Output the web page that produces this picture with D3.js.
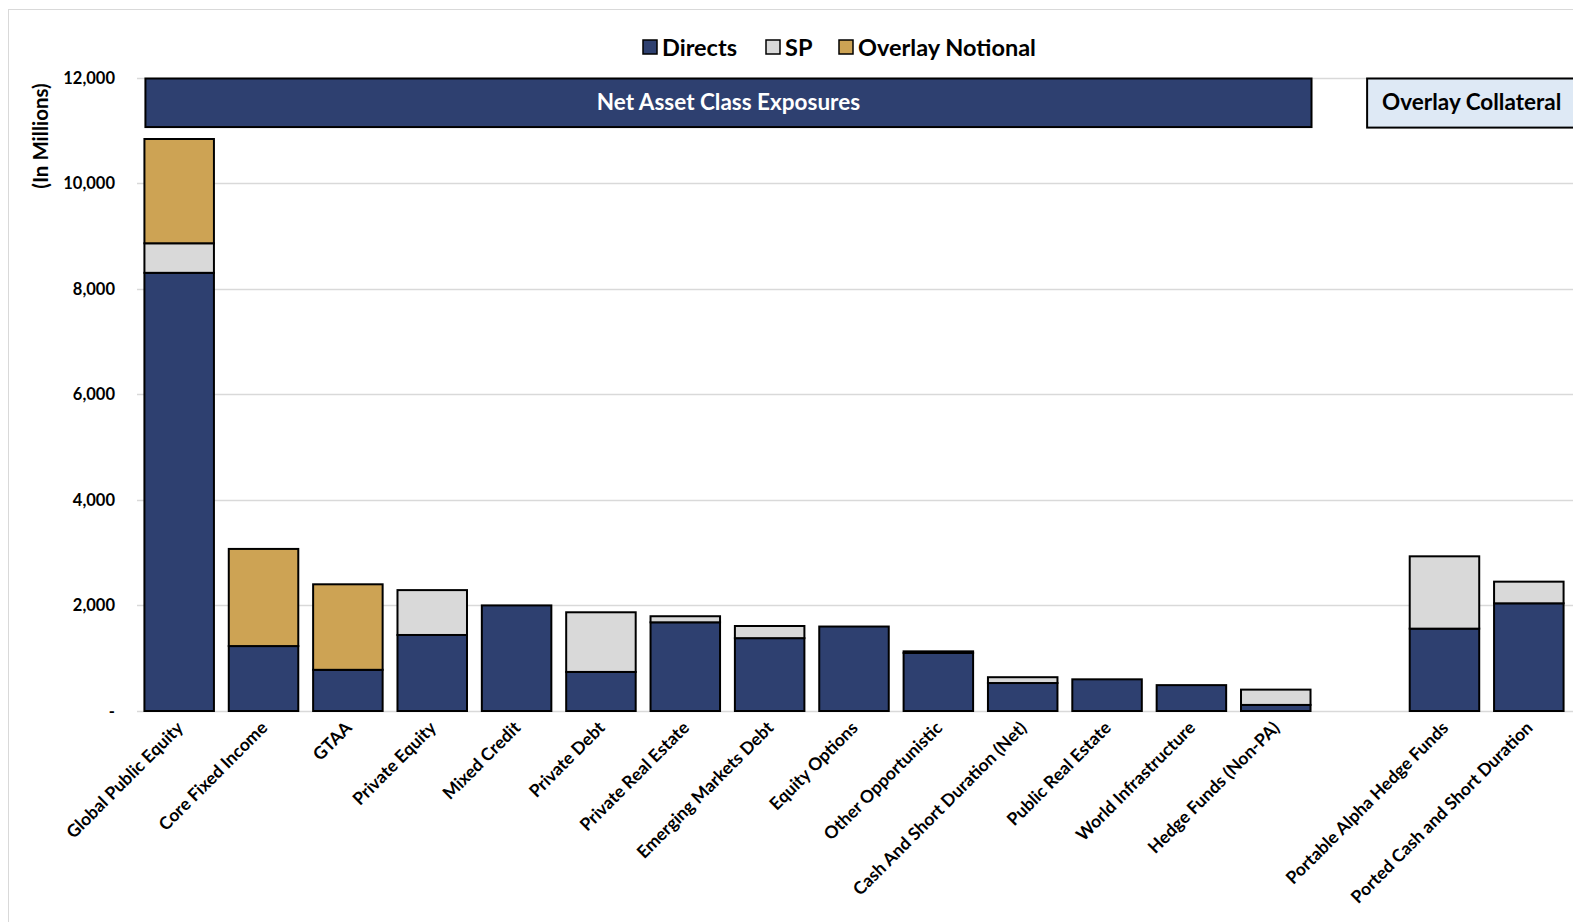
<!DOCTYPE html>
<html><head><meta charset="utf-8">
<script src="https://cdn.jsdelivr.net/npm/d3@7"></script>
<style>body{margin:0;background:#fff;overflow:hidden}svg{display:block}text{font-family:Lato,"Open Sans",sans-serif;font-weight:700}</style>
</head><body>
<script>
const categories = ["Global Public Equity","Core Fixed Income","GTAA","Private Equity","Mixed Credit","Private Debt","Private Real Estate","Emerging Markets Debt","Equity Options","Other Opportunistic","Cash And Short Duration (Net)","Public Real Estate","World Infrastructure","Hedge Funds (Non-PA)","","Portable Alpha Hedge Funds","Ported Cash and Short Duration"];
const directs = [8300,1230,780,1440,2000,740,1680,1380,1600,1100,530,600,490,115,0,1560,2040];
const sp      = [560,0,0,850,0,1130,115,230,0,0,110,0,0,290,0,1370,410];
const overlay = [1975,1840,1620,0,0,0,0,0,0,30,0,0,0,0,0,0,0];
const seriesNames = ["Directs","SP","Overlay Notional"];
const yTicks = [0,2000,4000,6000,8000,10000,12000];
const yTitle = "(In Millions)";
const headerNet = "Net Asset Class Exposures";
const headerCollateral = "Overlay Collateral";

const W=1573,H=922;
const colors={"Directs":"#2E4070","SP":"#D9D9D9","Overlay Notional":"#CDA354"};
const svg=d3.select("body").append("svg").attr("width",W).attr("height",H);

svg.append("rect").attr("x",8.5).attr("y",9.5).attr("width",1700).attr("height",1000)
  .attr("fill","none").attr("stroke","#D9D9D9").attr("stroke-width",1);

const x=d3.scaleBand().domain(categories.map((c,i)=>i)).range([137,1571]).paddingInner(0.176).paddingOuter(0.088);
const y=d3.scaleLinear().domain([0,12000]).range([711,77.5]);

// grid
svg.append("g").selectAll("line").data(yTicks).join("line")
  .attr("x1",137).attr("x2",1573).attr("y1",d=>Math.round(y(d))+0.5).attr("y2",d=>Math.round(y(d))+0.5)
  .attr("stroke","#D9D9D9").attr("stroke-width",1.3);

// y labels
svg.append("g").selectAll("text").data(yTicks).join("text")
  .attr("x",115).attr("y",d=>y(d)+6).attr("text-anchor","end").attr("font-size",16.5).attr("fill","#000")
  .text(d=>d===0?"-":d3.format(",")(d));
svg.append("text").attr("transform","translate(48,136) rotate(-90)").attr("text-anchor","middle")
  .attr("font-size",20.5).text(yTitle);

// stacked data
const rows=categories.map((c,i)=>({i,"Directs":directs[i],"SP":sp[i],"Overlay Notional":overlay[i]}));
const stack=d3.stack().keys(seriesNames)(rows);
svg.append("g").selectAll("g").data(stack).join("g").attr("fill",s=>colors[s.key])
  .selectAll("rect").data(s=>s.filter(d=>d[1]-d[0]>0)).join("rect")
  .attr("x",d=>x(d.data.i)).attr("width",x.bandwidth())
  .attr("y",d=>y(d[1])).attr("height",d=>y(d[0])-y(d[1]))
  .attr("stroke","#000").attr("stroke-width",2);

// header boxes
const netL=x(0)+1, netR=x(13)+x.bandwidth()+1;
svg.append("rect").attr("x",netL).attr("y",y(12000)+1).attr("width",netR-netL).attr("height",y(11080)-y(12000))
  .attr("fill","#2E4070").attr("stroke","#000").attr("stroke-width",2);
svg.append("text").attr("x",(netL+netR)/2).attr("y",(y(12000)+y(11080))/2+8).attr("text-anchor","middle")
  .attr("fill","#fff").attr("font-size",22.5).text(headerNet);
const colL=x(14)+x.bandwidth()/2+7;
svg.append("rect").attr("x",colL).attr("y",y(12000)+1).attr("width",300).attr("height",y(11070)-y(12000))
  .attr("fill","#DEE9F5").attr("stroke","#000").attr("stroke-width",2);
svg.append("text").attr("x",colL+15).attr("y",(y(12000)+y(11070))/2+8)
  .attr("fill","#000").attr("font-size",22.5).text(headerCollateral);

// x labels
svg.append("g").selectAll("text").data(categories.map((c,i)=>({c,i})).filter(d=>d.c)).join("text")
  .attr("transform",d=>`translate(${x(d.i)+x.bandwidth()/2+5},${729}) rotate(-45)`)
  .attr("text-anchor","end").attr("font-size",17.5).text(d=>d.c);

// legend
const leg=[{k:"Directs",x:643},{k:"SP",x:766},{k:"Overlay Notional",x:839}];
const lg=svg.append("g");
leg.forEach(l=>{
  lg.append("rect").attr("x",l.x).attr("y",40).attr("width",14).attr("height",14)
    .attr("fill",colors[l.k]).attr("stroke","#000").attr("stroke-width",1.5);
  lg.append("text").attr("x",l.x+19).attr("y",56).attr("font-size",23.5).text(l.k);
});
</script>
</body></html>
